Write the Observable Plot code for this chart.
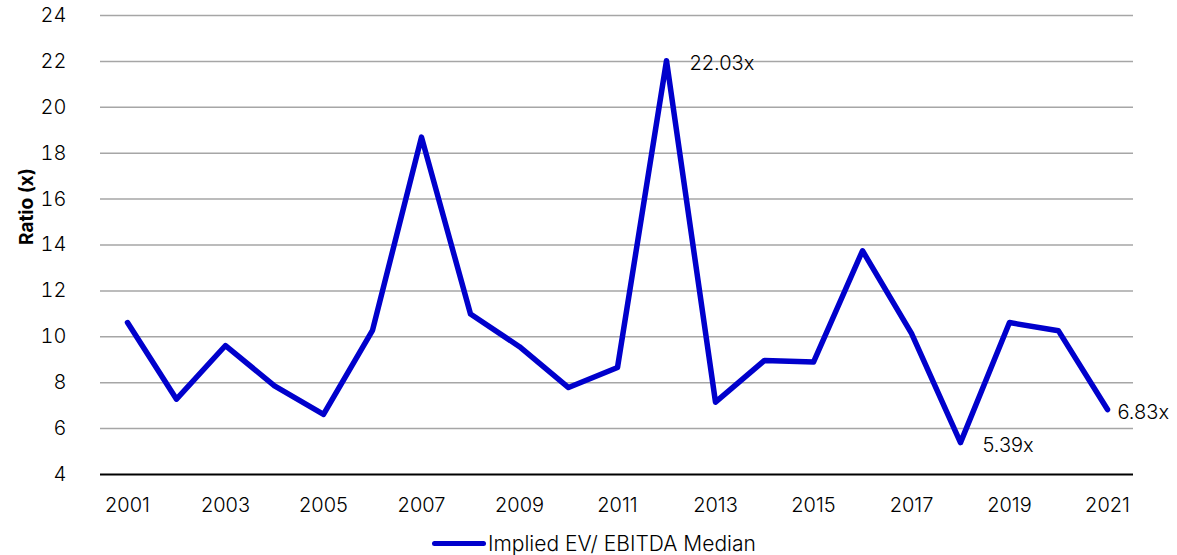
<!DOCTYPE html>
<html>
<head>
<meta charset="utf-8">
<script src="https://cdn.jsdelivr.net/npm/d3@7"></script>
<script src="https://cdn.jsdelivr.net/npm/@observablehq/plot@0.6"></script>
<style>
  html, body { margin: 0; padding: 0; background: #fff; }
  #chart { width: 1177px; font-family: Inter, "Noto Sans", sans-serif; }
  .legend { position: relative; height: 30px; font-size: 21px; color: #000; }
  .legend .item { position: absolute; left: 432px; top: 6px; display: flex; align-items: center; white-space: nowrap; }
  .legend .swatch { width: 54px; height: 5px; background: #0000CC; border-radius: 3px; margin-right: 2px; }
</style>
</head>
<body>
<div id="chart"></div>
<script>
const years = d3.range(2001, 2022);
const values = [10.62, 7.28, 9.62, 7.86, 6.62, 10.28, 18.70, 10.99, 9.57, 7.79, 8.66, 22.03, 7.15, 8.97, 8.90, 13.75, 10.15, 5.39, 10.62, 10.26, 6.83];
const yTicks = [4, 6, 8, 10, 12, 14, 16, 18, 20, 22, 24];
const xTicks = [2001, 2003, 2005, 2007, 2009, 2011, 2013, 2015, 2017, 2019, 2021];
const annoYears = [2012, 2018, 2021];
const annoLabels = ["22.03x", "5.39x", "6.83x"];
const annoDx = [23, 22, 10];
const seriesName = "Implied EV/ EBITDA Median";

const data = years.map((y, i) => ({year: y, value: values[i]}));
const anno = annoYears.map((y, i) => ({year: y, value: values[years.indexOf(y)], label: annoLabels[i], dx: annoDx[i]}));

const plot = Plot.plot({
  width: 1177,
  height: 525,
  marginLeft: 100,
  marginRight: 44,
  marginTop: 15,
  marginBottom: 51,
  style: {fontFamily: "Inter, 'Noto Sans', sans-serif", fontSize: "20px", color: "#000", background: "#fff"},
  x: {type: "point", domain: years, padding: 0.5},
  y: {domain: [4, 24]},
  marks: [
    Plot.gridY(yTicks.filter(d => d > 4), {stroke: "#a6a6a6", strokeOpacity: 1, strokeWidth: 1.5}),
    Plot.ruleY([4], {stroke: "#000", strokeWidth: 2}),
    Plot.axisY({ticks: yTicks, tickSize: 0, tickPadding: 34, label: null, fontSize: 20, fontWeight: 300}),
    Plot.axisX({ticks: xTicks, tickFormat: "d", tickSize: 0, tickPadding: 23, label: null, fontSize: 20, fontWeight: 300}),
    Plot.text(["Ratio (x)"], {frameAnchor: "left", dx: -74, rotate: -90, fontWeight: "bold", fontSize: 19}),
    Plot.line(data, {x: "year", y: "value", stroke: "#0000CC", strokeWidth: 5.5, strokeLinejoin: "round", strokeLinecap: "round"}),
    ...anno.map(a => Plot.text([a], {x: "year", y: "value", text: "label", textAnchor: "start", dx: a.dx, dy: 3, fontSize: 20, fontWeight: 300}))
  ]
});
const chart = document.getElementById("chart");
chart.appendChild(plot);
const legend = document.createElement("div");
legend.className = "legend";
legend.innerHTML = `<div class="item"><span class="swatch"></span><span style="font-weight:300">${seriesName}</span></div>`;
chart.appendChild(legend);
</script>
</body>
</html>
